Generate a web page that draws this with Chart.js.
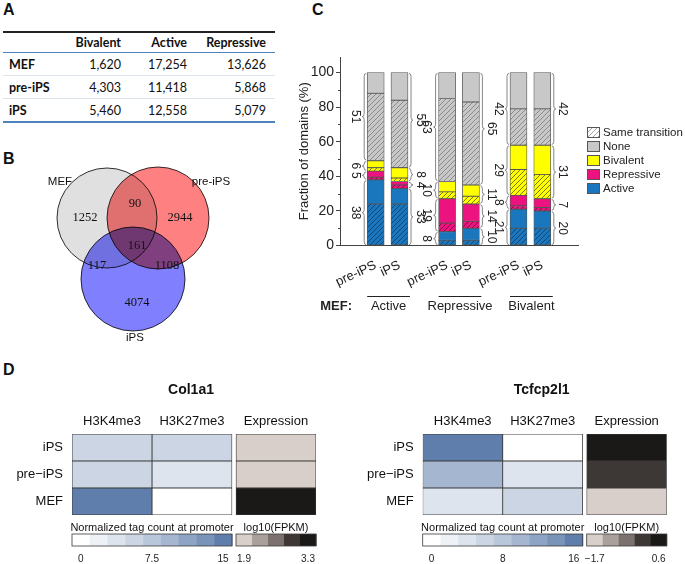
<!DOCTYPE html>
<html lang="en">
<head>
<meta charset="UTF-8">
<title>Chromatin domain transitions</title>
<script src="https://cdn.jsdelivr.net/npm/chart.js"></script>
<style>
    body { margin: 0; background: #fff; font-family: 'Liberation Sans', Arial, sans-serif; }
    #page { position: relative; width: 685px; height: 564px; overflow: hidden; background: #fff; }
    .tag { position: absolute; font-weight: bold; font-size: 16px; color: #111; }
    canvas { position: absolute; }
    #tbl { position: absolute; left: 3px; top: 31px; border-collapse: collapse; table-layout: fixed;
           font-family: Lato, 'Liberation Sans', sans-serif; font-size: 12.5px; color: #111; }
    #tbl th { font-weight: bold; text-align: right; height: 19px; padding: 0 3px;
              border-top: 2px solid #222; border-bottom: 1px solid #4f81bd; }
    #tbl td { text-align: right; height: 22px; padding: 0 3px; border-bottom: 1px solid #dde3ea; }
    #tbl td:first-child { text-align: left; font-weight: bold; padding-left: 6px; }
    #tbl td:last-child, #tbl th:last-child { padding-right: 9px; }
    #tbl tr:last-child td { border-bottom: 2px solid #4f81bd; }
</style>
</head>
<body>
<div id="page">
    <div class="tag" style="left:3px; top:1px;">A</div>
    <div class="tag" style="left:3px; top:150px;">B</div>
    <div class="tag" style="left:312px; top:1px;">C</div>
    <div class="tag" style="left:3px; top:361px;">D</div>

    <table id="tbl">
        <colgroup><col style="width:67px"><col style="width:54px"><col style="width:66px"><col style="width:85px"></colgroup>
    </table>

    <canvas id="venn" width="240" height="180" style="left:0; top:165px;"></canvas>
    <canvas id="bars" width="435" height="300" style="left:250px; top:20px;"></canvas>
    <canvas id="heatA" width="340" height="184" style="left:0; top:380px;"></canvas>
    <canvas id="heatB" width="345" height="184" style="left:340px; top:380px;"></canvas>
</div>

<script>
    // ---- panel A: domain counts
    var tableHead = ['Bivalent', 'Active', 'Repressive'];
    var tableRowNames = ['MEF', 'pre-iPS', 'iPS'];
    var bivalentCounts = [1620, 4303, 5460];
    var activeCounts = [17254, 11418, 12558];
    var repressiveCounts = [13626, 5868, 5079];

    // ---- panel B: venn
    var vennNames = ['MEF', 'pre-iPS', 'iPS'];
    var vennColors = ['#e0e0e0', '#ff8080', '#8080ff'];
    var vennCounts = [1252, 90, 2944, 161, 117, 1108, 4074];
    // layout of the diagram (canvas units)
    var vennCx = [107, 158, 133], vennCy = [53, 53, 114], vennR = [50, 51, 52];
    var vennCountX = [85, 135, 180, 137, 97, 167, 137];
    var vennCountY = [53, 39, 53, 81, 101, 101, 138];
    var vennNameX = [60, 211, 135], vennNameY = [17, 17, 173];

    // ---- panel C: fraction of domains (%)
    var slotLabels = ['', 'pre-iPS', 'iPS', '', 'pre-iPS', 'iPS', '', 'pre-iPS', 'iPS', ''];
    var barSlots = [1, 2, 4, 5, 7, 8];
    var mefGroups = ['Active', 'Repressive', 'Bivalent'];
    var activePct = [38, 33, 8, 10, 21, 20];
    var repressivePct = [5, 4, 19, 14, 8, 7];
    var bivalentPct = [6, 8, 10, 11, 29, 31];
    var nonePct = [51, 55, 63, 65, 42, 42];
    // part of each state that is the "same transition"
    var activeSame = [24, 24, 3, 3, 10, 10];
    var repressiveSame = [1.5, 2, 5, 4, 2, 2];
    var bivalentSame = [2, 2, 4, 4.5, 15, 14];
    var noneSame = [39, 39, 48, 48, 21, 21];
    var yTicks = [0, 20, 40, 60, 80, 100];

    // ---- panel D: heatmaps
    var heatRows = ['iPS', 'pre\u2212iPS', 'MEF'];
    var heatCols = ['H3K4me3', 'H3K27me3', 'Expression'];
    var col1a1K4 = [5.5, 5.5, 14.5];
    var col1a1K27 = [5.5, 4, 0.5];
    var col1a1Expr = [1.9, 1.9, 3.3];
    var col1a1TagTicks = ['0', '7.5', '15'];
    var col1a1ExprTicks = ['1.9', '3.3'];
    var tcfK4 = [15.5, 9.5, 4];
    var tcfK27 = [0.5, 4, 6];
    var tcfExpr = [0.6, 0.1, -1.7];
    var tcfTagTicks = ['0', '8', '16'];
    var tcfExprTicks = ['\u22121.7', '0.6'];

    var blueBins = ['#ffffff', '#eef1f6', '#dee4ed', '#cbd5e3', '#b9c7da', '#a5b6d0', '#8ea4c4', '#7a93b9', '#5f7eab'];
    var grayBins = ['#d8cfca', '#a9a09b', '#7b7270', '#3d3835', '#1b1917'];

    Chart.defaults.font.family = "'Liberation Sans', Arial, sans-serif";
    Chart.defaults.color = '#222';
    Chart.defaults.animation = false;

    // ---------------- table
    function fmt(n) { return n.toLocaleString('en-US'); }
    var tbl = document.getElementById('tbl');
    var html = '<tr><th></th>' + tableHead.map(function (h) { return '<th>' + h + '</th>'; }).join('') + '</tr>';
    tableRowNames.forEach(function (r, i) {
        html += '<tr><td>' + r + '</td><td>' + fmt(bivalentCounts[i]) + '</td><td>' +
            fmt(activeCounts[i]) + '</td><td>' + fmt(repressiveCounts[i]) + '</td></tr>';
    });
    tbl.insertAdjacentHTML('beforeend', html);

    // ---------------- venn
    var vennPlugin = {
        id: 'vennDraw',
        beforeDraw: function (chart) {
            var c = chart.ctx;
            c.save(); c.fillStyle = '#fff'; c.fillRect(0, 0, chart.width, chart.height); c.restore();
        },
        beforeDatasetDraw: function (chart, args) {
            if (args.index === 0) { chart.ctx.save(); chart.ctx.globalCompositeOperation = 'multiply'; }
        },
        afterDatasetDraw: function (chart, args) {
            if (args.index === 0) chart.ctx.restore();
        },
        afterDatasetsDraw: function (chart) {
            var c = chart.ctx;
            c.save();
            c.textAlign = 'center'; c.textBaseline = 'middle';
            c.fillStyle = '#111';
            c.font = "12.5px 'Liberation Serif', serif";
            chart.getDatasetMeta(1).data.forEach(function (pt, i) {
                c.fillText(String(vennCounts[i]), pt.x, pt.y);
            });
            c.font = "11.5px 'Liberation Sans', Arial, sans-serif";
            var xs = chart.scales.x, ys = chart.scales.y;
            vennNames.forEach(function (n, i) {
                c.fillText(n, xs.getPixelForValue(vennNameX[i]), ys.getPixelForValue(vennNameY[i]));
            });
            c.restore();
        }
    };

    new Chart(document.getElementById('venn'), {
        type: 'bubble',
        data: {
            datasets: [{
                data: vennCx.map(function (x, i) { return { x: x, y: vennCy[i], r: vennR[i] }; }),
                backgroundColor: vennColors,
                borderColor: '#333',
                borderWidth: 1,
                clip: false
            }, {
                type: 'scatter',
                data: vennCounts.map(function (v, i) { return { x: vennCountX[i], y: vennCountY[i] }; }),
                pointRadius: 0,
                clip: false
            }]
        },
        options: {
            responsive: false,
            layout: { padding: 0, autoPadding: false },
            plugins: { legend: { display: false }, tooltip: { enabled: false } },
            scales: {
                x: { display: false, min: 0, max: 240 },
                y: { display: false, min: 0, max: 180, reverse: true }
            }
        },
        plugins: [vennPlugin]
    });

    // ---------------- stacked bars
    var blue = '#1a77bd', pink = '#ec1380', yellow = '#ffff00', gray = '#c8c8c8';

    function hatch(bg, fg) {
        var s = 5;
        var c = document.createElement('canvas');
        c.width = s; c.height = s;
        var g = c.getContext('2d');
        g.fillStyle = bg; g.fillRect(0, 0, s, s);
        g.strokeStyle = fg; g.lineWidth = 0.8;
        g.beginPath();
        g.moveTo(0, s); g.lineTo(s, 0);
        g.moveTo(-1, 1); g.lineTo(1, -1);
        g.moveTo(s - 1, s + 1); g.lineTo(s + 1, s - 1);
        g.stroke();
        return g.createPattern(c, 'repeat');
    }

    function toSlots(arr) {
        var out = slotLabels.map(function () { return null; });
        barSlots.forEach(function (s, i) { out[s] = arr[i]; });
        return out;
    }

    var parts = [
        { total: activePct, same: activeSame, color: blue, line: '#0b3c66' },
        { total: repressivePct, same: repressiveSame, color: pink, line: '#70003a' },
        { total: bivalentPct, same: bivalentSame, color: yellow, line: '#5a5a00' },
        { total: nonePct, same: noneSame, color: gray, line: '#7a7a7a' }
    ];
    var barW = 17;
    var barSets = [];
    parts.forEach(function (p) {
        barSets.push({ data: toSlots(p.same), backgroundColor: hatch(p.color, p.line) });
        barSets.push({ data: toSlots(p.total.map(function (v, i) { return v - p.same[i]; })), backgroundColor: p.color });
    });
    barSets.forEach(function (d) {
        d.stack = 's'; d.borderColor = '#555'; d.borderWidth = 0.8;
        d.barThickness = barW; d.borderSkipped = false;
    });

    var legendItems = [
        { text: 'Same transition', fill: hatch('#ffffff', '#888888') },
        { text: 'None', fill: gray },
        { text: 'Bivalent', fill: yellow },
        { text: 'Repressive', fill: pink },
        { text: 'Active', fill: blue }
    ];

    function brace(c, x, yTop, yBot, dir) {
        var d = 4 * dir, h = d / 2;
        var ym = (yTop + yBot) / 2;
        var r = Math.min(3, (yBot - yTop) / 4);
        c.beginPath();
        c.moveTo(x, yTop);
        c.quadraticCurveTo(x + h, yTop, x + h, yTop + r);
        c.lineTo(x + h, ym - r);
        c.quadraticCurveTo(x + h, ym, x + d, ym);
        c.quadraticCurveTo(x + h, ym, x + h, ym + r);
        c.lineTo(x + h, yBot - r);
        c.quadraticCurveTo(x + h, yBot, x, yBot);
        c.stroke();
    }

    var barsPlugin = {
        id: 'barsExtra',
        afterDraw: function (chart) {
            var c = chart.ctx, x = chart.scales.x, y = chart.scales.y, area = chart.chartArea;
            c.save();
            // minor ticks
            c.strokeStyle = '#444'; c.lineWidth = 1;
            for (var v = 10; v < 100; v += 20) {
                var py = Math.round(y.getPixelForValue(v)) + 0.5;
                c.beginPath(); c.moveTo(area.left - 2, py); c.lineTo(area.left, py); c.stroke();
            }
            // braces + numbers
            c.strokeStyle = '#777'; c.lineWidth = 0.9;
            c.fillStyle = '#222';
            c.font = "12px 'Liberation Sans', Arial, sans-serif";
            c.textAlign = 'center'; c.textBaseline = 'middle';
            barSlots.forEach(function (slot, i) {
                var side = i % 2 === 0 ? -1 : 1;
                var cx = x.getPixelForValue(slot);
                var edge = cx + side * (barW / 2 + 1);
                var base = 0;
                parts.forEach(function (p) {
                    var val = p.total[i];
                    var y0 = y.getPixelForValue(base), y1 = y.getPixelForValue(base + val);
                    brace(c, edge, y1 + 0.8, y0 - 0.8, side);
                    c.save();
                    c.translate(edge + side * 11, (y0 + y1) / 2);
                    c.rotate(Math.PI / 2);
                    c.fillText(String(val), 0, 0);
                    c.restore();
                    base += val;
                });
            });
            // MEF group lines
            var lineY = Math.round(area.bottom + 50) + 0.5, textY = area.bottom + 61;
            c.strokeStyle = '#222'; c.lineWidth = 1;
            c.font = "13px 'Liberation Sans', Arial, sans-serif";
            mefGroups.forEach(function (g, k) {
                var a = x.getPixelForValue(barSlots[2 * k]) - barW / 2;
                var b = x.getPixelForValue(barSlots[2 * k + 1]) + barW / 2 + 2;
                c.beginPath(); c.moveTo(a, lineY); c.lineTo(b, lineY); c.stroke();
                c.fillText(g, (a + b) / 2, textY);
            });
            c.font = "bold 13px 'Liberation Sans', Arial, sans-serif";
            c.textAlign = 'right';
            c.fillText('MEF:', area.left + 12, textY);
            // legend
            c.textAlign = 'left';
            c.font = "11.5px 'Liberation Sans', Arial, sans-serif";
            legendItems.forEach(function (it, k) {
                var bx = 337, by = 107 + k * 14;
                c.fillStyle = it.fill;
                c.fillRect(bx, by, 13, 11);
                c.strokeStyle = '#555';
                c.strokeRect(bx + 0.5, by + 0.5, 12, 10);
                c.fillStyle = '#222';
                c.fillText(it.text, bx + 16, by + 6);
            });
            c.restore();
        }
    };

    new Chart(document.getElementById('bars'), {
        type: 'bar',
        data: { labels: slotLabels, datasets: barSets },
        options: {
            responsive: false,
            layout: { padding: { left: 30, right: 107, top: 37, bottom: 29.5 } },
            plugins: { legend: { display: false }, tooltip: { enabled: false } },
            scales: {
                x: {
                    stacked: true,
                    grid: { display: false },
                    border: { color: '#444' },
                    ticks: { autoSkip: false, minRotation: 25, maxRotation: 25, font: { size: 13 }, padding: 4, color: '#222' },
                    afterFit: function (s) { s.height = 45; }
                },
                y: {
                    stacked: true, min: 0, max: 109,
                    ticks: { stepSize: 20, font: { size: 14 }, padding: 2, color: '#222' },
                    afterBuildTicks: function (s) { s.ticks = yTicks.map(function (v) { return { value: v }; }); },
                    grid: { drawOnChartArea: false, tickLength: 4, color: '#444' },
                    border: { color: '#444' },
                    title: { display: true, text: 'Fraction of domains (%)', font: { size: 13 }, color: '#222', padding: { top: 17, bottom: 0 } },
                    afterFit: function (s) { s.width = 60; }
                }
            }
        },
        plugins: [barsPlugin]
    });

    // ---------------- heatmaps
    function binColor(v, lo, hi, bins) {
        var k = Math.floor((v - lo) / (hi - lo) * bins.length);
        return bins[Math.max(0, Math.min(bins.length - 1, k))];
    }

    function heatmap(id, title, k4, k27, expr, tagTicks, exprTicks, padLeft, padRight) {
        var tagLo = parseFloat(tagTicks[0].replace('\u2212', '-'));
        var tagHi = parseFloat(tagTicks[tagTicks.length - 1].replace('\u2212', '-'));
        var exLo = parseFloat(exprTicks[0].replace('\u2212', '-'));
        var exHi = parseFloat(exprTicks[exprTicks.length - 1].replace('\u2212', '-'));
        var colSpan = [[0, 1], [1, 2], [2.05, 3.05]];
        var colVals = [k4, k27, expr];
        var sets = colVals.map(function (vals, j) {
            return {
                data: heatRows.map(function () { return colSpan[j]; }),
                backgroundColor: vals.map(function (v) {
                    return j < 2 ? binColor(v, tagLo, tagHi, blueBins) : binColor(v, exLo, exHi, grayBins);
                }),
                borderColor: '#3a3a3a', borderWidth: 0.8, borderSkipped: false,
                barPercentage: 1, categoryPercentage: 1, grouped: false
            };
        });

        var extra = {
            id: 'heatExtra',
            afterDraw: function (chart) {
                var c = chart.ctx, x = chart.scales.x, y = chart.scales.y, a = chart.chartArea;
                c.save();
                c.fillStyle = '#111';
                c.textAlign = 'center'; c.textBaseline = 'middle';
                c.font = "bold 14px 'Liberation Sans', Arial, sans-serif";
                c.fillText(title, (a.left + a.right) / 2 - 3, a.top - 44);
                c.font = "13px 'Liberation Sans', Arial, sans-serif";
                heatCols.forEach(function (h, j) {
                    c.fillText(h, x.getPixelForValue((colSpan[j][0] + colSpan[j][1]) / 2), a.top - 13);
                });
                c.textAlign = 'right';
                heatRows.forEach(function (r, i) {
                    c.fillText(r, a.left - 9, y.getPixelForValue(i));
                });
                // colour keys
                c.textAlign = 'center';
                c.font = "11px 'Liberation Sans', Arial, sans-serif";
                c.fillText('Normalized tag count at promoter', x.getPixelForValue(1), a.bottom + 13);
                c.fillText('log10(FPKM)', x.getPixelForValue(2.55), a.bottom + 13);
                var top = a.bottom + 19, h = 12;
                function key(lo, hi, bins, labels) {
                    var x0 = x.getPixelForValue(lo), x1 = x.getPixelForValue(hi);
                    var w = (x1 - x0) / bins.length;
                    bins.forEach(function (col, k) {
                        c.fillStyle = col;
                        c.fillRect(x0 + k * w, top, w + 0.5, h);
                    });
                    c.strokeStyle = '#3a3a3a'; c.lineWidth = 0.8;
                    c.strokeRect(x0, top, x1 - x0, h);
                    c.fillStyle = '#222';
                    c.font = "10px 'Liberation Sans', Arial, sans-serif";
                    labels.forEach(function (t, k) {
                        var px = labels.length === 3 ? [x0 + w / 2, (x0 + x1) / 2, x1 - w / 2][k] : [x0 + w / 2, x1 - w / 2][k];
                        c.fillText(t, px, a.bottom + 44);
                    });
                }
                key(0, 2, blueBins, tagTicks);
                key(2.05, 3.05, grayBins, exprTicks);
                c.restore();
            }
        };

        new Chart(document.getElementById(id), {
            type: 'bar',
            data: { labels: heatRows, datasets: sets },
            options: {
                indexAxis: 'y',
                responsive: false,
                layout: { padding: { left: padLeft, right: padRight, top: 54, bottom: 49 } },
                plugins: { legend: { display: false }, tooltip: { enabled: false } },
                scales: {
                    x: { display: false, min: 0, max: 3.05 },
                    y: { display: false }
                }
            },
            plugins: [extra]
        });
    }

    heatmap('heatA', 'Col1a1', col1a1K4, col1a1K27, col1a1Expr, col1a1TagTicks, col1a1ExprTicks, 72, 24);
    heatmap('heatB', 'Tcfcp2l1', tcfK4, tcfK27, tcfExpr, tcfTagTicks, tcfExprTicks, 82.7, 18.3);
</script>
</body>
</html>
